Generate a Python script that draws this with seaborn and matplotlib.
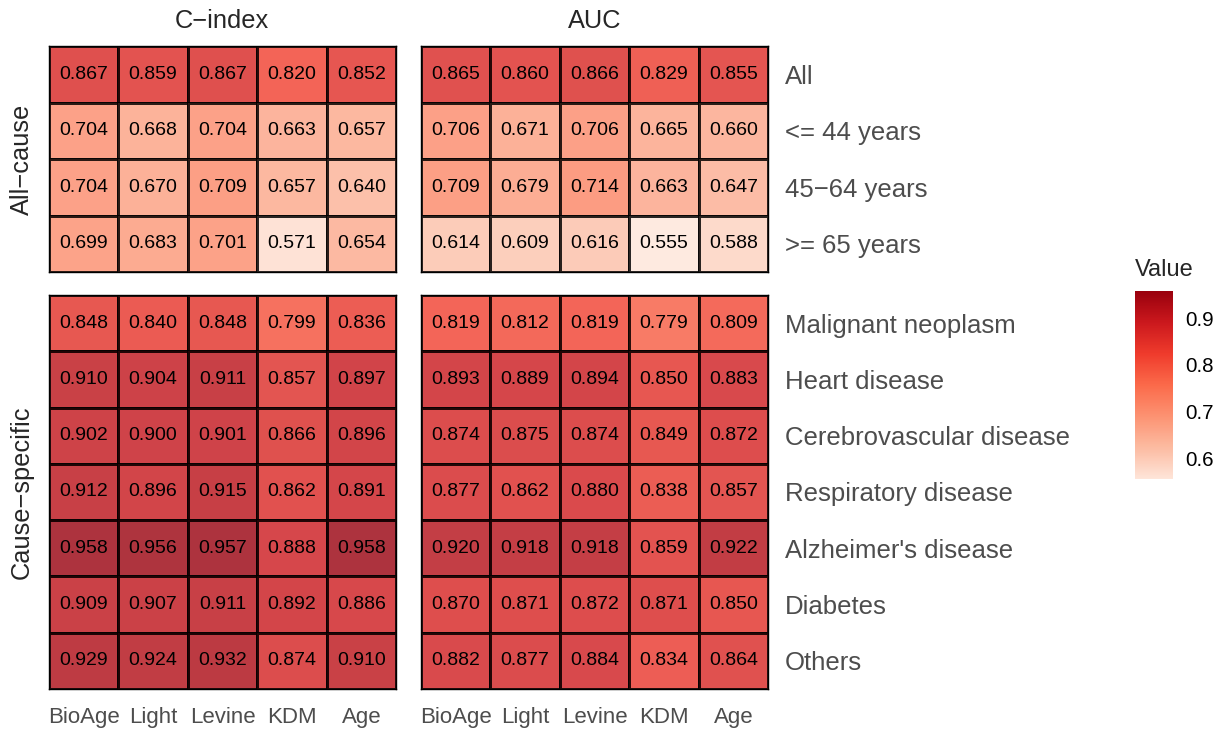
import numpy as np
import pandas as pd
import matplotlib
matplotlib.use("Agg")
import matplotlib.pyplot as plt
import seaborn as sns
from matplotlib.colors import LinearSegmentedColormap, Normalize
from matplotlib.cm import ScalarMappable

# data
methods = ["BioAge", "Light", "Levine", "KDM", "Age"]
allcause_rows = ["All", "<= 44 years", "45\u221264 years", ">= 65 years"]
cause_rows = ["Malignant neoplasm", "Heart disease", "Cerebrovascular disease",
              "Respiratory disease", "Alzheimer's disease", "Diabetes", "Others"]

cindex_all = [[0.867, 0.859, 0.867, 0.820, 0.852],
              [0.704, 0.668, 0.704, 0.663, 0.657],
              [0.704, 0.670, 0.709, 0.657, 0.640],
              [0.699, 0.683, 0.701, 0.571, 0.654]]
auc_all = [[0.865, 0.860, 0.866, 0.829, 0.855],
           [0.706, 0.671, 0.706, 0.665, 0.660],
           [0.709, 0.679, 0.714, 0.663, 0.647],
           [0.614, 0.609, 0.616, 0.555, 0.588]]
cindex_cause = [[0.848, 0.840, 0.848, 0.799, 0.836],
                [0.910, 0.904, 0.911, 0.857, 0.897],
                [0.902, 0.900, 0.901, 0.866, 0.896],
                [0.912, 0.896, 0.915, 0.862, 0.891],
                [0.958, 0.956, 0.957, 0.888, 0.958],
                [0.909, 0.907, 0.911, 0.892, 0.886],
                [0.929, 0.924, 0.932, 0.874, 0.910]]
auc_cause = [[0.819, 0.812, 0.819, 0.779, 0.809],
             [0.893, 0.889, 0.894, 0.850, 0.883],
             [0.874, 0.875, 0.874, 0.849, 0.872],
             [0.877, 0.862, 0.880, 0.838, 0.857],
             [0.920, 0.918, 0.918, 0.859, 0.922],
             [0.870, 0.871, 0.872, 0.871, 0.850],
             [0.882, 0.877, 0.884, 0.834, 0.864]]

sns.set_style("white")
plt.rcParams["font.family"] = ["Liberation Sans", "DejaVu Sans"]

reds = ["#FEE5D9", "#FCBBA1", "#FC9272", "#FB6A4A", "#EF3B2C", "#CB181D", "#99000D"]
cmap = LinearSegmentedColormap.from_list("reds7", reds)
all_vals = np.concatenate([np.ravel(cindex_all), np.ravel(auc_all),
                           np.ravel(cindex_cause), np.ravel(auc_cause)])
vmin, vmax = all_vals.min(), all_vals.max()

W, H = 1225, 730
fig = plt.figure(figsize=(W / 100, H / 100), dpi=100)


def px_axes(x0, y0, x1, y1):
    return fig.add_axes([x0 / W, 1 - y1 / H, (x1 - x0) / W, (y1 - y0) / H])


panels = [
    (cindex_all, allcause_rows, (49, 46, 396, 272), False, False),
    (auc_all, allcause_rows, (421, 46, 768, 272), True, False),
    (cindex_cause, cause_rows, (49, 295, 396, 689), False, True),
    (auc_cause, cause_rows, (421, 295, 768, 689), True, True),
]

for vals, rows, box, right_lab, bottom_lab in panels:
    ax = px_axes(*box)
    df = pd.DataFrame(vals, index=rows, columns=methods)
    sns.heatmap(df, ax=ax, cmap=cmap, vmin=vmin, vmax=vmax, alpha=0.8,
                annot=True, fmt=".3f", cbar=False, linewidths=0.8, linecolor="black",
                annot_kws={"color": "black", "fontsize": 14})
    for s in ax.spines.values():
        s.set_visible(True)
        s.set_color("black")
        s.set_linewidth(1.0)
    ax.tick_params(length=0)
    if right_lab:
        ax.yaxis.tick_right()
        ax.set_yticklabels(rows, rotation=0, fontsize=18.5, color="#4d4d4d")
        ax.tick_params(axis="y", pad=12)
    else:
        ax.set_yticks([])
    if bottom_lab:
        ax.set_xticklabels(methods, rotation=0, fontsize=16, color="#4d4d4d")
        ax.tick_params(axis="x", pad=13)
    else:
        ax.set_xticks([])
    ax.set_xlabel("")
    ax.set_ylabel("")

# column and row strip titles
fig.text(222 / W, 1 - 21 / H, "C\u2212index", ha="center", va="center", fontsize=18.3)
fig.text(595 / W, 1 - 21 / H, "AUC", ha="center", va="center", fontsize=18.3)
fig.text(22 / W, 1 - 159 / H, "All\u2212cause", ha="center", va="center",
         rotation=90, fontsize=18.3)
fig.text(22 / W, 1 - 492 / H, "Cause\u2212specific", ha="center", va="center",
         rotation=90, fontsize=18.3)

# colour bar
cax = px_axes(1135, 291, 1173, 479)
sm = ScalarMappable(norm=Normalize(vmin, vmax), cmap=cmap)
cb = fig.colorbar(sm, cax=cax, ticks=[0.6, 0.7, 0.8, 0.9])
cb.outline.set_visible(False)
cb.ax.tick_params(left=True, right=True, direction="in", length=5, width=0.8,
                  color="white", labelcolor="black", labelsize=14.8, pad=9)
cb.ax.set_yticklabels(["0.6", "0.7", "0.8", "0.9"])
fig.text(1135 / W, 1 - 270 / H, "Value", ha="left", va="center", fontsize=17)

fig.savefig("out.png", dpi=100)
